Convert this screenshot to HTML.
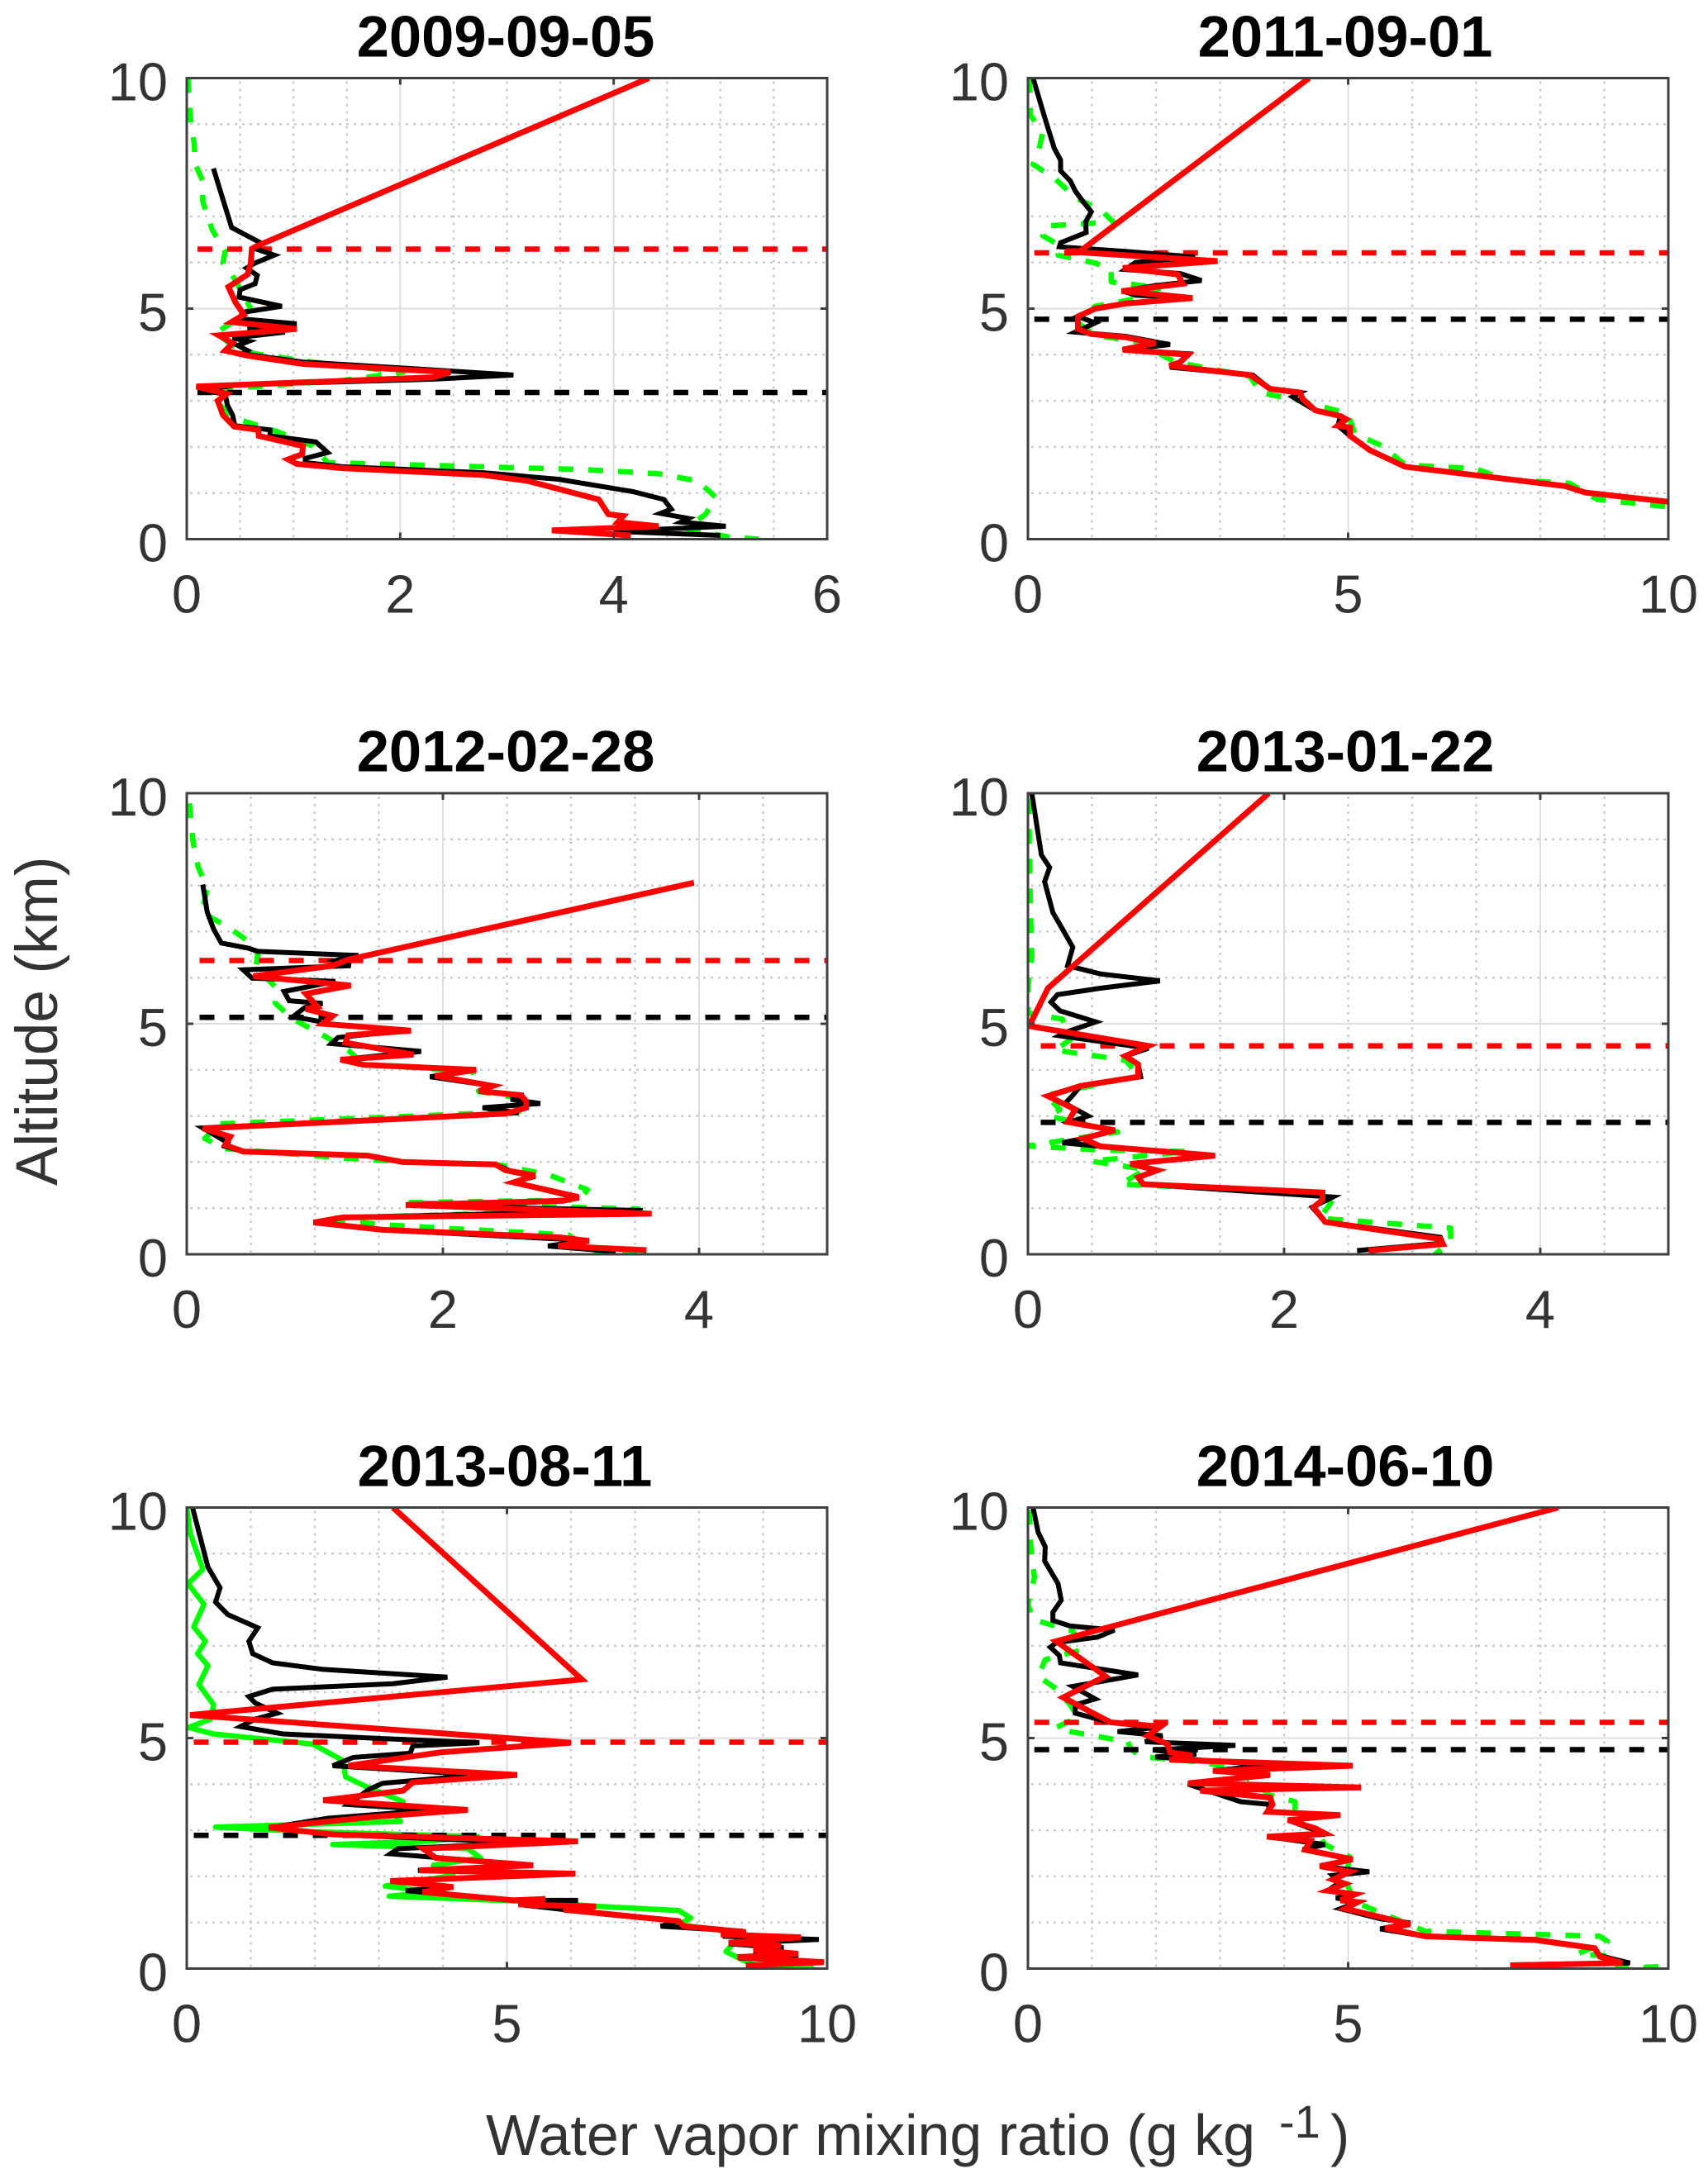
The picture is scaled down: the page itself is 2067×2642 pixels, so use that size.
<!DOCTYPE html>
<html lang="en">
<head>
<meta charset="utf-8">
<title>Water vapor mixing ratio profiles</title>
<style>
html,body{margin:0;padding:0;background:#fff}
svg{display:block}
text{font-family:"Liberation Sans",Arial,sans-serif}
.title{font-size:70.5px;font-weight:bold;fill:#000;text-anchor:middle}
.label{font-size:70px;fill:#333}
.tick-label{font-size:65px;fill:#333}
</style>
</head>
<body>
<svg id="chart" xmlns="http://www.w3.org/2000/svg" width="2067" height="2642" viewBox="0 0 2067 2642">
  <rect x="0" y="0" width="2067" height="2642" fill="#fff"/>
  <g id="plots"></g>
  <text class="title" x="612" y="68.5">2009-09-05</text>
  <text class="title" x="1628" y="68.5">2011-09-01</text>
  <text class="title" x="612" y="933.5">2012-02-28</text>
  <text class="title" x="1628" y="933.5">2013-01-22</text>
  <text class="title" x="611" y="1798.5">2013-08-11</text>
  <text class="title" x="1628" y="1798.5">2014-06-10</text>
  <text class="label" transform="translate(69,1435) rotate(-90)" x="0" y="0" style="font-size:71px">Altitude (km)</text>
  <text class="label" x="588" y="2608">Water vapor mixing ratio (g kg</text>
  <text class="label" x="1548" y="2587" style="font-size:56px">-1</text>
  <text class="label" x="1610" y="2608">)</text>
</svg>
<script>
const panelDates = ['2009-09-05','2011-09-01','2012-02-28','2013-01-22','2013-08-11','2014-06-10'];
const xLimits = [6,10,5,5,10,10];
const xTickValues = [[0,2,4,6],[0,5,10],[0,2,4],[0,2,4],[0,5,10],[0,5,10]];
const xMinorValues = [
  [0.5,1,1.5,2.5,3,3.5,4.5,5,5.5],
  [1,2,3,4,6,7,8,9],
  [0.5,1,1.5,2.5,3,3.5,4.5],
  [0.5,1,1.5,2.5,3,3.5,4.5],
  [1,2,3,4,6,7,8,9],
  [1,2,3,4,6,7,8,9]
];
const yTickValues = [0,5,10];
const yMinorValues = [1,2,3,4,6,7,8,9];
const redLevels = [6.29,6.21,6.37,4.52,4.91,5.34];
const blackLevels = [3.18,4.77,5.14,2.86,2.89,4.75];
const levelStarts = [0.1,0.1,0.1,0.1,0.11,0.1];

const black1 = [[.25,8.04],[.31,7.59],[.375,7.10],[.42,6.76],[.525,6.63],[.69,6.43],[.64,6.30],[.82,6.16],[.64,5.99],[.56,5.88],[.66,5.72],[.64,5.54],[.50,5.41],[.49,5.25],[.89,5.05],[.525,4.92],[.49,4.78],[1.03,4.67],[.57,4.56],[.92,4.49],[.43,4.36],[.58,4.29],[.48,4.20],[.57,4.09],[.52,4.02],[1.09,3.84],[2.31,3.67],[3.06,3.56],[2.31,3.47],[.48,3.35],[.13,3.22],[.36,3.15],[.38,2.91],[.43,2.69],[.45,2.46],[.78,2.37],[.78,2.24],[1.21,2.11],[1.32,1.88],[1.11,1.75],[1.11,1.66],[1.46,1.57],[2.78,1.44],[3.48,1.30],[4.18,1.03],[4.47,.86],[4.54,.65],[4.44,.56],[4.70,.45],[4.63,.37],[5.05,.28],[4.0,.17],[5.0,.08]];
const red1 = [[4.33,10],[.64,6.34],[.61,6.30],[.60,5.99],[.57,5.74],[.39,5.47],[.455,5.14],[.535,4.87],[.42,4.71],[1.03,4.56],[.30,4.42],[.43,4.25],[.36,4.09],[.57,3.98],[1.09,3.80],[2.47,3.62],[2.31,3.51],[.09,3.31],[.375,3.15],[.29,3.0],[.34,2.69],[.445,2.44],[.67,2.37],[.675,2.24],[1.09,2.02],[1.08,1.84],[.95,1.73],[1.03,1.63],[1.46,1.54],[2.78,1.39],[3.2,1.26],[3.86,.86],[3.95,.54],[4.09,.50],[4.04,.37],[4.42,.28],[3.42,.19],[4.16,.08]];
const green1 = [[.01,10],[.03,9.2],[.07,8.57],[.08,8.13],[.15,7.77],[.15,7.32],[.24,6.7],[.36,6.25],[.34,5.99],[.43,5.72],[.6,5.0],[.48,4.78],[.27,4.47],[.43,4.2],[.64,4.02],[1.18,3.84],[2.03,3.62],[1.46,3.44],[.53,3.29],[.27,3.13],[.27,3.0],[.43,2.64],[.85,2.33],[1.18,2.02],[1.32,1.66],[3.71,1.51],[4.42,1.42],[4.79,1.26],[4.96,.9],[4.86,.54],[4.68,.23],[5.07,.05],[5.36,0]];

const black2 = [[.08,10],[.27,9.11],[.41,8.48],[.51,8.22],[.51,7.99],[.66,7.77],[.74,7.55],[.86,7.32],[.99,7.10],[.90,6.88],[.91,6.65],[.51,6.43],[.49,6.34],[1.52,6.24],[2.61,6.12],[1.68,6.0],[1.52,5.85],[2.38,5.76],[2.71,5.61],[1.99,5.5],[1.48,5.38],[1.68,5.29],[2.54,5.23],[1.52,5.11],[1.05,5.0],[.78,4.83],[1.05,4.69],[.74,4.49],[1.52,4.4],[2.22,4.22],[1.48,4.11],[2.5,4.02],[2.34,3.8],[2.22,3.73],[3.51,3.56],[3.78,3.26],[4.25,3.18],[4.13,3.09],[4.49,2.79],[4.88,2.67],[4.84,2.46],[5.03,2.24],[5.34,1.93],[5.89,1.57],[8.39,1.15],[8.7,1.01],[10,.81]];
const red2 = [[4.39,10],[.82,6.25],[.59,6.24],[2.96,6.03],[1.48,5.88],[2.34,5.74],[2.42,5.54],[1.46,5.38],[2.57,5.23],[1.52,5.11],[1.05,5],[.78,4.83],[.78,4.56],[.98,4.45],[1.52,4.38],[1.99,4.25],[1.48,4.11],[2.5,4.0],[2.38,3.84],[2.21,3.76],[3.47,3.56],[3.78,3.26],[4.25,3.18],[4.29,3.04],[4.49,2.79],[4.88,2.67],[4.97,2.6],[4.84,2.46],[5.03,2.42],[5.03,2.24],[5.34,1.93],[5.89,1.57],[8.39,1.15],[8.7,1.01],[10,.81]];
const green2 = [[.02,10],[.04,9.2],[.23,8.8],[.16,8.39],[.08,8.13],[.43,7.81],[.74,7.41],[1.17,7.1],[1.33,6.88],[.27,6.79],[.23,6.58],[.51,6.36],[.47,6.16],[1.05,5.99],[1.3,5.85],[1.3,5.58],[2.07,5.45],[1.75,5.23],[1.05,5.05],[.82,4.65],[1.05,4.42],[1.68,4.29],[2.3,3.84],[3.47,3.53],[3.63,3.18],[4.25,3.0],[4.99,2.73],[5.11,2.28],[5.54,2.02],[5.89,1.61],[6.98,1.53],[7.45,1.3],[8.46,1.21],[8.89,.86],[10,.7]];

const black3 = [[.125,8.02],[.16,7.42],[.21,7.05],[.27,6.75],[.48,6.64],[.555,6.57],[1.34,6.48],[1.16,6.37],[1.28,6.26],[.44,6.17],[.51,5.99],[1.16,5.92],[1.0,5.83],[.76,5.7],[.8,5.5],[1.06,5.44],[.92,5.35],[.83,5.15],[1.02,5.06],[1.06,5.0],[1.73,4.86],[1.18,4.7],[1.13,4.57],[1.83,4.4],[1.2,4.22],[1.38,4.11],[2.23,4.0],[1.9,3.85],[2.39,3.65],[2.28,3.54],[2.63,3.45],[2.53,3.36],[2.76,3.27],[2.31,3.18],[2.59,3.07],[.125,2.74],[.32,2.42],[.30,2.34],[.44,2.23],[1.41,2.14],[1.69,2.0],[2.41,1.95],[2.55,1.78],[2.72,1.69],[2.55,1.56],[3.06,1.22],[2.94,1.16],[1.98,1.04],[3.56,.95],[1.22,.80],[1.0,.69],[1.53,.53],[3.13,.30],[2.82,.18],[3.35,.06]];
const red3 = [[3.96,8.06],[1.26,6.39],[1.14,6.26],[.52,6.03],[1.28,5.83],[.93,5.65],[1.02,5.37],[.93,5.32],[1.14,5.17],[1.06,5.0],[1.75,4.85],[1.26,4.75],[1.24,4.59],[1.77,4.33],[1.2,4.22],[1.38,4.11],[2.26,4.0],[1.94,3.87],[2.39,3.65],[2.28,3.54],[2.61,3.45],[2.65,3.32],[2.65,3.18],[2.49,3.05],[.125,2.73],[.34,2.55],[.30,2.37],[.44,2.23],[1.41,2.14],[1.69,2.0],[2.41,1.95],[2.49,1.82],[2.72,1.71],[2.55,1.56],[3.06,1.24],[2.94,1.16],[1.71,1.07],[3.63,.88],[1.22,.80],[.99,.69],[1.53,.53],[2.9,.37],[3.14,.29],[2.9,.18],[3.59,.09]];
const green3 = [[.02,9.78],[.05,8.93],[.09,8.39],[.16,7.95],[.12,7.41],[.32,7.1],[.48,6.79],[.555,6.52],[.54,6.21],[.69,5.81],[.69,5.45],[.83,5.1],[1.04,4.79],[1.26,4.43],[1.38,4.12],[2.23,3.97],[2.28,3.53],[2.69,3.35],[2.59,3.09],[.26,2.83],[.14,2.51],[.30,2.29],[1.26,2.08],[1.73,2.0],[2.43,1.94],[2.82,1.73],[3.13,1.4],[3.06,1.18],[1.73,1.12],[3.53,.98],[1.08,.78],[1.53,.64],[2.98,.42],[3.1,.2],[3.25,0],[3.53,0]];

const black4 = [[.03,10],[.105,8.66],[.17,8.39],[.13,8.08],[.195,7.41],[.26,7.1],[.35,6.66],[.31,6.26],[.565,6.08],[1.03,5.93],[.565,5.77],[.23,5.63],[.18,5.47],[.25,5.28],[.53,5.04],[.31,4.83],[.245,4.74],[.94,4.47],[.76,4.3],[.86,4.12],[.88,3.85],[.41,3.65],[.35,3.45],[.29,3.27],[.47,3.0],[.33,2.87],[.68,2.69],[.43,2.51],[.27,2.42],[.565,2.34],[1.46,2.14],[.80,1.96],[1.01,1.82],[.86,1.67],[.90,1.52],[2.38,1.24],[2.22,1.02],[2.32,.7],[3.22,.37],[3.24,.24],[2.57,.08]];
const red4 = [[1.88,10],[.156,5.77],[.01,4.95],[.94,4.52],[.76,4.3],[.86,4.12],[.86,3.85],[.41,3.65],[.156,3.43],[.37,3.14],[.31,2.87],[.68,2.69],[.43,2.51],[.565,2.34],[1.46,2.14],[.80,1.96],[1.01,1.82],[.86,1.67],[.90,1.52],[2.3,1.34],[2.3,1.18],[2.23,1.02],[2.32,.7],[3.22,.33],[3.24,.22],[2.66,.08]];
const green4 = [[.01,9.87],[.01,8.93],[.02,7.33],[.03,6.44],[0,5.81],[0,5.23],[.27,5.1],[.33,4.65],[.21,4.43],[.76,4.21],[.82,4.03],[.76,3.81],[.14,3.45],[.25,3.14],[.16,3.0],[.70,2.65],[0,2.35],[.565,2.26],[1.25,2.23],[.49,2.02],[.92,1.84],[.72,1.52],[2.24,1.34],[2.38,1.18],[2.28,.78],[3.3,.57],[3.3,.29],[3.18,0],[3.28,0]];

const black5 = [[.09,10],[.33,8.71],[.52,8.26],[.45,7.95],[.64,7.68],[1.11,7.39],[.97,7.1],[1.03,6.83],[1.34,6.63],[2.13,6.49],[4.07,6.32],[3.22,6.18],[1.34,6.06],[.97,5.9],[1.07,5.76],[1.41,5.54],[1.07,5.41],[.84,5.25],[1.5,5.09],[3.06,4.99],[4.57,4.9],[3.53,4.83],[3.49,4.67],[2.6,4.58],[2.28,4.4],[4.0,4.25],[4.39,4.18],[3.06,4.02],[2.85,3.89],[2.52,3.56],[3.85,3.44],[2.2,3.26],[1.31,3.06],[2.28,2.91],[5.33,2.73],[3.3,2.6],[3.18,2.49],[5.41,2.24],[3.61,2.13],[6.07,2.06],[3.18,1.9],[4.16,1.77],[3.42,1.69],[5.1,1.48],[6.11,1.48],[5.18,1.39],[6.58,1.17],[7.68,1.03],[7.4,.92],[8.69,.81],[8.37,.7],[9.87,.63],[8.46,.54],[9.32,.45],[8.85,.35],[9.55,.29],[8.62,.23],[9.95,.14],[8.73,.07]];
const red5 = [[3.22,10],[6.17,6.27],[.05,5.5],[6.0,4.9],[3.96,4.69],[2.52,4.4],[5.16,4.2],[3.53,4.04],[3.38,3.86],[2.13,3.65],[4.39,3.44],[2.91,3.29],[1.28,3.06],[2.28,2.91],[6.11,2.76],[3.69,2.6],[3.89,2.4],[5.41,2.24],[3.63,2.13],[6.07,2.06],[3.18,1.9],[4.16,1.77],[3.68,1.66],[5.1,1.48],[5.6,1.51],[5.18,1.39],[6.39,1.35],[5.88,1.28],[7.68,1.03],[7.76,.92],[8.73,.79],[8.34,.74],[9.59,.68],[8.46,.56],[9.28,.5],[8.85,.41],[9.55,.32],[8.6,.25],[9.95,.14],[8.73,.07]];
const green5 = [[0,10],[.05,9.46],[.25,8.66],[.02,8.35],[.27,7.9],[.11,7.41],[.29,7.1],[.17,6.83],[.33,6.57],[.19,6.16],[.42,5.72],[.37,5.41],[.03,5.23],[.41,5.09],[1.97,4.87],[2.44,4.51],[2.48,4.16],[2.83,3.93],[3.38,3.62],[3.26,3.31],[3.34,3.19],[.45,3.07],[1.89,2.97],[4.55,2.86],[3.85,2.77],[2.28,2.69],[4.39,2.6],[4.59,2.4],[3.85,2.24],[4.16,2.02],[3.1,1.79],[3.85,1.66],[3.16,1.57],[5.25,1.46],[6.43,1.35],[7.68,1.26],[7.87,1.1],[7.68,.95],[8.69,.77],[8.42,.37],[8.81,.1],[9.24,0],[9.79,.03]];

const black6 = [[.08,10],[.16,9.46],[.27,9.15],[.26,8.84],[.47,8.35],[.52,7.99],[.39,7.73],[.39,7.55],[.66,7.43],[1.35,7.34],[1.09,7.19],[.44,7.07],[.35,6.97],[.49,6.79],[.51,6.63],[1.72,6.37],[.7,6.12],[1.05,5.85],[.74,5.72],[.74,5.54],[1.29,5.34],[1.99,5.23],[1.4,5.14],[2.1,5.05],[1.83,4.92],[3.24,4.84],[1.95,4.74],[2.63,4.65],[1.99,4.59],[3.78,4.42],[2.89,4.29],[3.71,4.2],[2.5,4.0],[3.32,3.62],[3.78,3.56],[3.74,3.4],[4.88,3.33],[4.06,3.22],[4.49,3.0],[4.64,2.91],[3.74,2.86],[4.64,2.69],[4.29,2.58],[5.07,2.37],[4.56,2.22],[5.33,2.1],[4.76,2.02],[4.88,1.88],[4.68,1.69],[5.11,1.61],[4.81,1.53],[5.15,1.44],[4.88,1.3],[5.5,1.08],[5.97,.99],[5.5,.86],[6.2,.7],[7.92,.63],[8.85,.45],[8.93,.28],[9.4,.12],[7.53,.08]];
const red6 = [[8.28,10],[.44,7.1],[1.21,6.34],[.55,5.88],[1.29,5.34],[2.07,5.25],[1.87,5.05],[2.18,4.87],[2.22,4.69],[2.57,4.62],[2.21,4.53],[5.07,4.4],[2.89,4.29],[3.78,4.2],[2.5,4.02],[5.2,3.93],[2.69,3.86],[3.78,3.71],[3.82,3.56],[3.74,3.4],[4.88,3.33],[4.06,3.22],[4.49,3.04],[4.64,2.93],[3.73,2.86],[4.41,2.77],[4.33,2.58],[5.07,2.37],[4.56,2.22],[5.03,2.1],[4.76,1.93],[4.95,1.84],[4.68,1.69],[5.11,1.61],[4.88,1.48],[5.15,1.44],[4.95,1.3],[5.5,1.12],[5.97,.96],[5.58,.88],[6.2,.7],[7.92,.62],[8.85,.44],[8.93,.26],[9.28,.12],[7.53,.07]];
const green6 = [[.02,9.95],[.04,9.2],[.1,8.48],[0,7.9],[.08,7.57],[.7,7.32],[.86,6.92],[.27,6.7],[.16,6.34],[.44,6.07],[.66,5.72],[.78,5.45],[.44,5.23],[.66,5.14],[1.56,4.92],[1.6,4.78],[1.75,4.6],[2.77,4.47],[3.24,4.33],[3.78,3.76],[4.17,3.62],[4.17,3.22],[4.49,3.0],[4.64,2.69],[5.03,2.42],[4.95,1.93],[5.11,1.44],[5.58,1.17],[6.2,.81],[8.93,.7],[9.05,.59],[8.58,.32],[9.01,.28],[9.17,0],[10,.05]];

const blackSeries = [black1,black2,black3,black4,black5,black6];
const redSeries = [red1,red2,red3,red4,red5,red6];
const greenSeries = [green1,green2,green3,green4,green5,green6];
const greenIsDashed = [true,true,true,true,false,true];

const colLeft = [226, 1244];
const rowTop = [94.5, 960, 1824.5];
const plotW = 775;
const plotH = 558;
const NS = 'http://www.w3.org/2000/svg';
const root = document.getElementById('plots');

function shape(parent, tag, name, attrs) {
  const el = document.createElementNS(NS, tag);
  
  
  for (const k in attrs) el.setAttribute(k, attrs[k]);
  parent.appendChild(el);
  return el;
}

panelDates.forEach(function (date, i) {
  const left = colLeft[i % 2];
  const top = rowTop[Math.floor(i / 2)];
  const xMax = xLimits[i];
  const xPos = function (v) { return left + v / xMax * plotW; };
  const yPos = function (z) { return top + plotH * (1 - z / 10); };
  const g = shape(root, 'g', 'panel-' + date, {});

  const clipId = 'clip' + i;
  const defs = document.createElementNS(NS, 'defs');
  const clip = document.createElementNS(NS, 'clipPath');
  clip.setAttribute('id', clipId);
  const clipRect = document.createElementNS(NS, 'rect');
  clipRect.setAttribute('x', left);
  clipRect.setAttribute('y', top);
  clipRect.setAttribute('width', plotW);
  clipRect.setAttribute('height', plotH);
  clip.appendChild(clipRect);
  defs.appendChild(clip);
  g.appendChild(defs);

  xMinorValues[i].forEach(function (v) {
    shape(g, 'line', 'x-minor-grid', {x1: xPos(v), x2: xPos(v), y1: top + 4, y2: top + plotH, stroke: '#cccccc', 'stroke-width': 2.5, 'stroke-dasharray': '3 6'});
  });
  yMinorValues.forEach(function (z) {
    shape(g, 'line', 'y-minor-grid', {x1: left + 4, x2: left + plotW, y1: yPos(z), y2: yPos(z), stroke: '#cccccc', 'stroke-width': 2.5, 'stroke-dasharray': '3 6'});
  });
  xTickValues[i].forEach(function (v) {
    if (v > 0 && v < xMax) shape(g, 'line', 'x-major-grid', {x1: xPos(v), x2: xPos(v), y1: top, y2: top + plotH, stroke: '#dedede', 'stroke-width': 2});
  });
  yTickValues.forEach(function (z) {
    if (z > 0 && z < 10) shape(g, 'line', 'y-major-grid', {x1: left, x2: left + plotW, y1: yPos(z), y2: yPos(z), stroke: '#dedede', 'stroke-width': 2});
  });

  const clipped = shape(g, 'g', 'profile-lines', {'clip-path': 'url(#' + clipId + ')'});
  const pts = function (arr) {
    return arr.map(function (p) { return xPos(p[0]).toFixed(1) + ',' + yPos(p[1]).toFixed(1); }).join(' ');
  };
  const greenAttrs = {points: pts(greenSeries[i]), fill: 'none', stroke: '#00ff00', 'stroke-width': 6.5, 'stroke-linejoin': 'round'};
  if (greenIsDashed[i]) greenAttrs['stroke-dasharray'] = '18 18';
  shape(clipped, 'polyline', 'green-profile', greenAttrs);
  shape(clipped, 'line', 'red-level-line', {x1: xPos(levelStarts[i]), x2: left + plotW, y1: yPos(redLevels[i]), y2: yPos(redLevels[i]), stroke: '#ff0000', 'stroke-width': 6.5, 'stroke-dasharray': '18 18'});
  shape(clipped, 'line', 'black-level-line', {x1: xPos(levelStarts[i]), x2: left + plotW, y1: yPos(blackLevels[i]), y2: yPos(blackLevels[i]), stroke: '#000000', 'stroke-width': 6.5, 'stroke-dasharray': '18 18'});
  shape(clipped, 'polyline', 'black-profile', {points: pts(blackSeries[i]), fill: 'none', stroke: '#000000', 'stroke-width': 6, 'stroke-linejoin': 'miter'});
  shape(clipped, 'polyline', 'red-profile', {points: pts(redSeries[i]), fill: 'none', stroke: '#ff0000', 'stroke-width': 7, 'stroke-linejoin': 'miter'});

  shape(g, 'rect', 'plot-frame', {x: left, y: top, width: plotW, height: plotH, fill: 'none', stroke: '#404040', 'stroke-width': 3});

  xTickValues[i].forEach(function (v) {
    shape(g, 'line', 'x-tick-bottom', {x1: xPos(v), x2: xPos(v), y1: top + plotH, y2: top + plotH - 8, stroke: '#404040', 'stroke-width': 3});
    shape(g, 'line', 'x-tick-top', {x1: xPos(v), x2: xPos(v), y1: top, y2: top + 8, stroke: '#404040', 'stroke-width': 3});
    const t = shape(g, 'text', 'x-tick-label', {x: xPos(v), y: top + plotH + 89, 'text-anchor': 'middle', class: 'tick-label'});
    t.textContent = String(v);
  });
  yTickValues.forEach(function (z) {
    shape(g, 'line', 'y-tick-left', {x1: left, x2: left + 8, y1: yPos(z), y2: yPos(z), stroke: '#404040', 'stroke-width': 3});
    shape(g, 'line', 'y-tick-right', {x1: left + plotW, x2: left + plotW - 8, y1: yPos(z), y2: yPos(z), stroke: '#404040', 'stroke-width': 3});
    const t = shape(g, 'text', 'y-tick-label', {x: left - 23, y: yPos(z) + 27, 'text-anchor': 'end', class: 'tick-label'});
    t.textContent = String(z);
  });
});
</script>
</body>
</html>
